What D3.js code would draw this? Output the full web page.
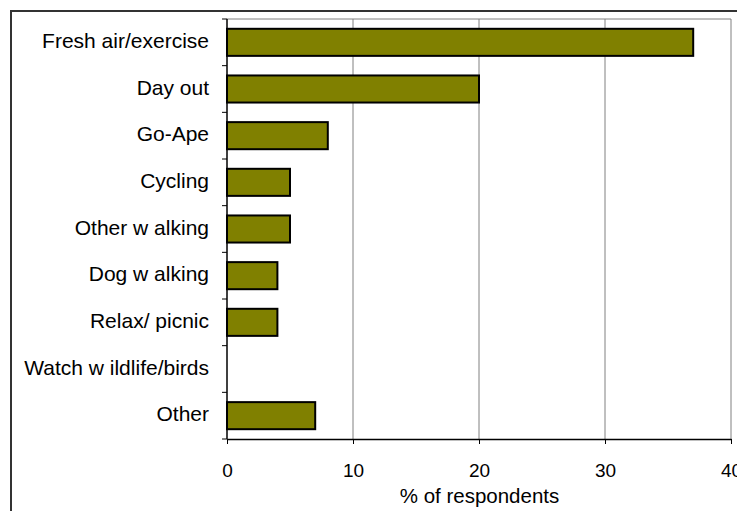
<!DOCTYPE html>
<html><head><meta charset="utf-8">
<script src="https://cdn.jsdelivr.net/npm/d3@7"></script>
<style>body{margin:0;background:#fff}svg{display:block}text{font-family:"Liberation Sans",Arial,sans-serif;fill:#000}</style>
</head><body>
<svg id="c" width="737" height="511"></svg>
<script>
const categories = ["Fresh air/exercise","Day out","Go-Ape","Cycling","Other w alking","Dog w alking","Relax/ picnic","Watch w ildlife/birds","Other"];
const values = [37,20,8,5,5,4,4,0,7];
const xTicks = [0,10,20,30,40];
const xTitle = "% of respondents";

const svg = d3.select("#c");
const L = 227, R = 731, T = 19, B = 439;

svg.append("rect").attr("x",11).attr("y",11).attr("width",740).attr("height",520)
  .attr("fill","#fff").attr("stroke","#333").attr("stroke-width",2);

const x = d3.scaleLinear().domain([0,40]).range([L,R]);
const y = d3.scaleBand().domain(categories).range([T,B]).paddingInner(0.42).paddingOuter(0.21);
const yb = d3.scaleBand().domain(categories).range([T,B]);

// gridlines
svg.append("g").selectAll("line").data(xTicks.slice(1)).join("line")
  .attr("x1",d=>x(d)).attr("x2",d=>x(d)).attr("y1",T).attr("y2",B)
  .attr("stroke","#808080").attr("stroke-width",1);
svg.append("line").attr("x1",L).attr("x2",R).attr("y1",T).attr("y2",T).attr("stroke","#808080");

// bars
svg.append("g").selectAll("rect").data(categories.map((c,i)=>({c,v:values[i]})).filter(d=>d.v>0)).join("rect")
  .attr("x",x(0)).attr("y",d=>y(d.c)).attr("width",d=>x(d.v)-x(0)).attr("height",y.bandwidth())
  .attr("fill","#808000").attr("stroke","#000").attr("stroke-width",2);

// y axis
const ya = svg.append("g");
ya.append("line").attr("x1",L).attr("x2",L).attr("y1",T).attr("y2",B).attr("stroke","#000").attr("stroke-width",1.5);
ya.selectAll("line.t").data(categories.concat(["_end"])).join("line").attr("class","t")
  .attr("x1",L-5).attr("x2",L).attr("y1",(d,i)=>T+i*yb.step()).attr("y2",(d,i)=>T+i*yb.step())
  .attr("stroke","#000");
ya.selectAll("text").data(categories).join("text")
  .attr("x",209).attr("y",d=>yb(d)+yb.bandwidth()/2+5.7)
  .attr("text-anchor","end").attr("font-size",21).text(d=>d);

// x axis
const xa = svg.append("g").attr("transform",`translate(0,${B})`)
  .call(d3.axisBottom(x).tickValues(xTicks).tickSize(5).tickPadding(10).tickSizeOuter(0));
xa.select(".domain").attr("stroke","#000").attr("stroke-width",1.5);
xa.selectAll(".tick line").attr("stroke","#000");
xa.selectAll(".tick text").attr("font-size",19).attr("font-family","Liberation Sans, Arial, sans-serif").attr("fill","#000")
  .attr("y",38).attr("dy",0);

svg.append("text").attr("x",479.5).attr("y",503).attr("text-anchor","middle").attr("font-size",20.5).text(xTitle);
</script>
</body></html>
